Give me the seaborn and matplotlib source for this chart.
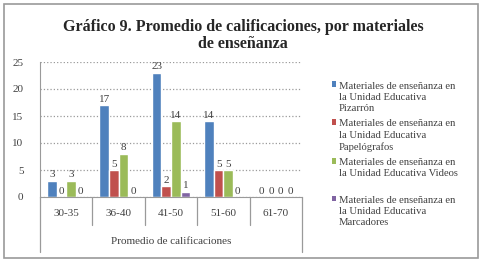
import numpy as np
import pandas as pd
import matplotlib.pyplot as plt
import seaborn as sns
from matplotlib.patches import Rectangle, Patch
from matplotlib.legend_handler import HandlerPatch

# -------------------------------------------------------
# Datos
# -------------------------------------------------------
categorias = ['30-35', '36-40', '41-50', '51-60', '61-70']
series = [
    'Materiales de enseñanza en\nla Unidad Educativa\nPizarrón',
    'Materiales de enseñanza en\nla Unidad Educativa\nPapelógrafos',
    'Materiales de enseñanza en\nla Unidad Educativa Videos',
    'Materiales de enseñanza en\nla Unidad Educativa\nMarcadores',
]
pizarron = [3, 17, 23, 14, 0]
papelografos = [0, 5, 2, 5, 0]
videos = [3, 8, 14, 5, 0]
marcadores = [0, 0, 1, 0, 0]

colores = ['#4F81BD', '#C0504D', '#9BBB59', '#8064A2']

filas = []
for nombre, valores in zip(series, [pizarron, papelografos, videos, marcadores]):
    for cat, v in zip(categorias, valores):
        filas.append({'Rango': cat, 'Serie': nombre, 'Valor': v})
df = pd.DataFrame(filas)


# marcador de leyenda alineado con la primera línea del texto
class HandlerArriba(HandlerPatch):
    def create_artists(self, legend, orig_handle, xdescent, ydescent,
                       width, height, fontsize, trans):
        p = Rectangle((-xdescent, -ydescent + fontsize * 1.2), width, height,
                      facecolor=orig_handle.get_facecolor(), edgecolor='none',
                      transform=trans)
        return [p]


# -------------------------------------------------------
# Figura
# -------------------------------------------------------
sns.set_style('white')
plt.rcParams['font.family'] = ['Liberation Serif', 'DejaVu Serif']

W, H = 481, 264
fig = plt.figure(figsize=(W / 100, H / 100), dpi=100)

# marco exterior
fig.patches.append(Rectangle((4 / W, 1 - 258 / H), 474 / W, 254 / H,
                             transform=fig.transFigure, fill=False,
                             edgecolor='#9a9a9a', linewidth=1.2))

ax = fig.add_axes([40 / W, 1 - 197 / H, 262 / W, 135 / H])

sns.barplot(data=df, x='Rango', y='Valor', hue='Serie', palette=colores,
            width=0.73, saturation=1, ax=ax, legend=True)

ax.set_ylim(0, 25)
ax.set_yticks([0, 5, 10, 15, 20, 25])
ax.set_xlim(-0.5, len(categorias) - 0.5)
ax.yaxis.grid(True, linestyle=':', color='#9a9a9a', linewidth=0.9)
ax.set_axisbelow(True)
for s in ['top', 'right']:
    ax.spines[s].set_visible(False)
ax.spines['left'].set_color('#9a9a9a')
ax.spines['bottom'].set_color('#9a9a9a')
ax.tick_params(axis='y', labelsize=8, colors='#404040', length=0, pad=12)
ax.tick_params(axis='x', labelsize=8, colors='#404040', length=0, pad=9)
ax.set_ylabel('')
ax.set_xlabel('Promedio de calificaciones', fontsize=8, color='#404040', labelpad=13)

# etiquetas de valores
for cont in ax.containers:
    ax.bar_label(cont, fmt='%g', fontsize=8, color='#404040', padding=1)

# separadores de categorías debajo del eje
trans = ax.get_xaxis_transform()
for b in np.arange(0.5, len(categorias) - 1, 1.0):
    ax.plot([b, b], [0, -28 / 135], transform=trans, color='#9a9a9a',
            linewidth=0.9, clip_on=False)
for b in [-0.5, len(categorias) - 0.5]:
    ax.plot([b, b], [0, -55 / 135], transform=trans, color='#9a9a9a',
            linewidth=0.9, clip_on=False)

# leyenda (todas las entradas con tres líneas para igual espaciado)
handles, labels = ax.get_legend_handles_labels()
labels = [l if l.count('\n') == 2 else l + '\n ' for l in labels]
leg = ax.legend(handles, labels, loc='upper left', bbox_to_anchor=(322 / W, 1 - 72 / H),
                bbox_transform=fig.transFigure, frameon=False, fontsize=7.7,
                handlelength=0.45, handleheight=0.45, handletextpad=0.2,
                labelspacing=0.62, labelcolor='#404040',
                handler_map={Patch: HandlerArriba()})
for t in leg.get_texts():
    t.set_linespacing(1.3)

fig.text(243 / W, 1 - 27 / H, 'Gráfico 9. Promedio de calificaciones, por materiales',
         ha='center', va='center', fontsize=11.5, fontweight='bold')
fig.text(243 / W, 1 - 44 / H, 'de enseñanza',
         ha='center', va='center', fontsize=11.5, fontweight='bold')

plt.savefig('out.png', dpi=100)
plt.close()
